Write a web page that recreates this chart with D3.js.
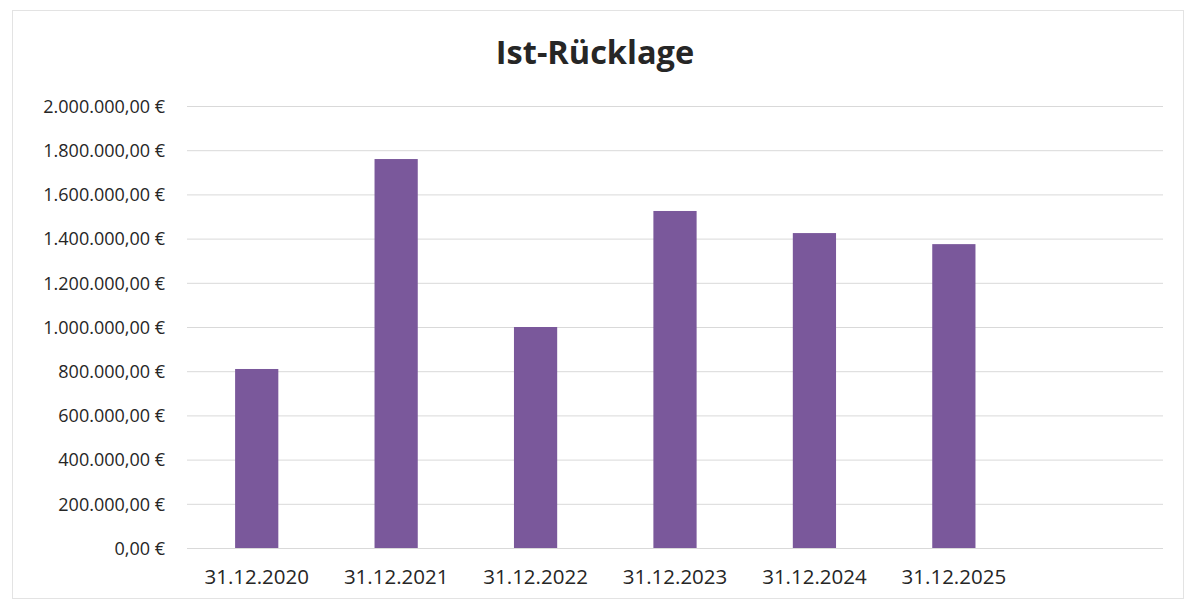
<!DOCTYPE html>
<html>
<head>
<meta charset="utf-8">
<script src="https://cdn.jsdelivr.net/npm/d3@7"></script>
<style>
  body { margin: 0; background: #fff; }
  svg text { font-family: "Open Sans", "Noto Sans", sans-serif; fill: #262626; }
</style>
</head>
<body>
<div id="chart"></div>
<script>
// Ist-Rücklage, Stand jeweils 31.12.
const categories = ["31.12.2020", "31.12.2021", "31.12.2022", "31.12.2023", "31.12.2024", "31.12.2025", ""];
const values = [810000, 1760000, 1000000, 1525000, 1425000, 1375000, null];
const yTicks = [0, 200000, 400000, 600000, 800000, 1000000, 1200000, 1400000, 1600000, 1800000, 2000000];

const width = 1186;
const height = 600;
const margin = { top: 106, right: 23, bottom: 52, left: 187 };

const de = d3.formatLocale({
  decimal: ",",
  thousands: ".",
  grouping: [3],
  currency: ["", " €"]
});
const fmt = de.format("$,.2f");

const svg = d3.select("#chart")
  .append("svg")
  .attr("width", width)
  .attr("height", height);

// outer chart border
svg.append("rect")
  .attr("x", 12.5)
  .attr("y", 10.5)
  .attr("width", 1171)
  .attr("height", 588)
  .attr("fill", "#fff")
  .attr("stroke", "#e3e3e3");

const x = d3.scaleBand()
  .domain(categories)
  .range([margin.left, width - margin.right])
  .paddingInner(0.69)
  .paddingOuter(0.345);

const y = d3.scaleLinear()
  .domain([0, 2000000])
  .range([height - margin.bottom, margin.top]);

// gridlines + y labels
const yAxis = d3.axisLeft(y)
  .tickValues(yTicks)
  .tickSize(-(width - margin.right - margin.left))
  .tickPadding(22)
  .tickFormat(fmt);

const gy = svg.append("g")
  .attr("transform", `translate(${margin.left},0)`)
  .call(yAxis);
gy.select(".domain").remove();
gy.selectAll(".tick line").attr("stroke", "#d9d9d9");
gy.selectAll(".tick text")
  .attr("font-size", 18)
  .attr("dy", "0.35em");

// bars
svg.append("g")
  .selectAll("rect")
  .data(categories.map((c, i) => ({ c, v: values[i] })).filter(d => d.v != null))
  .join("rect")
  .attr("x", d => x(d.c))
  .attr("y", d => y(d.v))
  .attr("width", x.bandwidth())
  .attr("height", d => y(0) - y(d.v))
  .attr("fill", "#7a589b");

// x labels
const xAxis = d3.axisBottom(x).tickSize(0).tickPadding(21);
const gx = svg.append("g")
  .attr("transform", `translate(0,${height - margin.bottom})`)
  .call(xAxis);
gx.select(".domain").remove();
gx.selectAll(".tick text").attr("font-size", 20.5);

// title
svg.append("text")
  .attr("x", 595)
  .attr("y", 64)
  .attr("text-anchor", "middle")
  .attr("font-size", 32.5)
  .attr("font-weight", "bold")
  .text("Ist-Rücklage");
</script>
</body>
</html>
